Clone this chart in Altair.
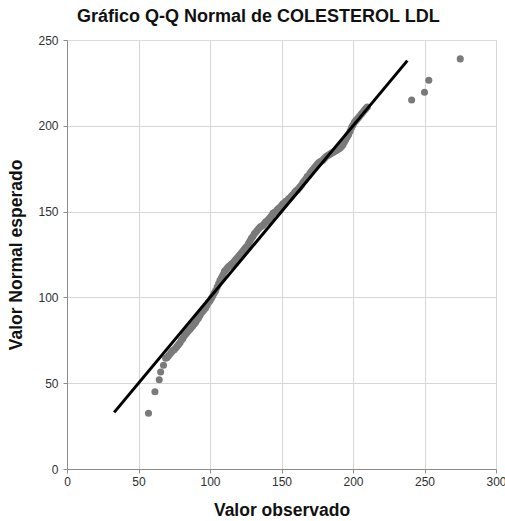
import altair as alt
import pandas as pd

observed = [57, 61.5, 64.5, 65.5, 67.5,
            69, 70, 71, 72, 73, 74, 75, 76, 77, 78, 79, 80,
            81, 82, 83, 84, 85, 86, 87, 88, 89, 90, 91, 92, 93, 94, 95, 96, 97, 98, 99, 100,
            101, 102, 103, 104, 105, 106, 107, 108, 109, 110,
            111, 112, 113, 114, 115, 116, 117, 118, 119, 120, 121, 122, 123, 124, 125, 126, 127, 128, 129, 130,
            131, 132, 133, 134, 135, 136, 137, 138, 139, 140, 141, 142, 143, 144, 145, 146, 147, 148, 149, 150,
            151, 152, 153, 154, 155, 156, 157, 158, 159, 160, 161, 162, 163, 164, 165, 166, 167, 168, 169, 170,
            171, 172, 173, 174, 175, 176, 177, 178, 179, 180, 181, 182, 183, 184, 185, 186, 187, 188, 189, 190,
            191, 192, 193, 194, 195, 196, 197, 198, 199, 200, 201, 202, 203, 204, 205, 206, 207, 208, 209, 210,
            241, 250, 253, 275]
expected = [32.5, 45, 52, 56.5, 60.5,
            64.5, 65, 66, 67, 68, 69, 69.5, 70.5, 71.5, 72.5, 73.5, 75,
            76, 77.5, 78.5, 79.5, 80.5, 81.5, 82.5, 83.5, 84.5, 85.5, 87, 88, 89.5, 91, 92, 93, 94, 95.5, 97, 98,
            99.5, 101, 102.5, 104, 106, 108, 110, 111.5, 113, 115,
            116, 117, 118, 118.5, 119.5, 120, 121, 122, 123, 124, 125, 126, 127, 128, 129, 130, 131.5, 133, 134.5, 135.5,
            137, 138, 139, 140, 141, 141.5, 142, 143, 144, 144.5, 145.5, 146.5, 147.5, 149, 149.5, 150, 151, 152, 152.5, 153.5,
            154.5, 155, 156, 156.5, 157.5, 158, 159, 160, 161, 162, 162.5, 163.5, 164.5, 165.5, 167, 168, 169, 170.5, 171, 172.5,
            173.5, 174.5, 175.5, 176.5, 177.5, 178.5, 179, 179.5, 180, 181, 182, 182.5, 183, 183.5, 184, 184.5, 185, 185.5, 186, 186.5,
            187, 188, 189, 190.5, 192, 193.5, 195, 197, 199, 200.5, 202, 203, 204, 205, 206, 207, 208, 209, 210, 211,
            215, 219.5, 226.5, 239]

line_x = [33, 238]
line_y = [33, 238]

pts = pd.DataFrame({"obs": observed, "exp": expected})
ln = pd.DataFrame({"obs": line_x, "exp": line_y})

grid_op = {"condition": {"test": "datum.value == 250", "value": 0}, "value": 1}

common = dict(grid=True, gridColor="#d6d6d6", labelFontSize=12, labelColor="#303030",
              titleFontSize=17.5, titleFontWeight="bold", titleColor="#111111",
              domainColor="#8c8c8c", tickColor="#8c8c8c", tickSize=4,
              labelFont="Liberation Sans", titleFont="Liberation Sans", labelFlush=False)

xax = alt.Axis(values=[0, 50, 100, 150, 200, 250, 300], title="Valor observado",
               titlePadding=14, labelPadding=3, **common)
yax = alt.Axis(values=[0, 50, 100, 150, 200, 250], title="Valor Normal esperado",
               gridOpacity=grid_op, titlePadding=12, labelPadding=5, **common)

xs = alt.Scale(domain=[0, 300], nice=False, zero=False)
ys = alt.Scale(domain=[0, 250], nice=False, zero=False)

points = alt.Chart(pts).mark_circle(size=50, color="#7a7a7a", opacity=1).encode(
    x=alt.X("obs:Q", scale=xs, axis=xax),
    y=alt.Y("exp:Q", scale=ys, axis=yax),
)
line = alt.Chart(ln).mark_line(color="#000000", strokeWidth=3).encode(
    x=alt.X("obs:Q", scale=xs),
    y=alt.Y("exp:Q", scale=ys),
)

chart = alt.layer(points, line).properties(
    width=429, height=429,
    title=alt.TitleParams("Gráfico Q-Q Normal de COLESTEROL LDL", anchor="start", frame="group", dx=10,
                          fontSize=18, fontWeight="bold", font="Liberation Sans", color="#111111", offset=8),
    autosize=alt.AutoSizeParams(type="none"),
    padding={"left": 67, "top": 40, "right": 9, "bottom": 52},
).configure_view(stroke=None).configure(background="white")

chart.save("out.html", embed_options={"renderer": "svg", "actions": False})
